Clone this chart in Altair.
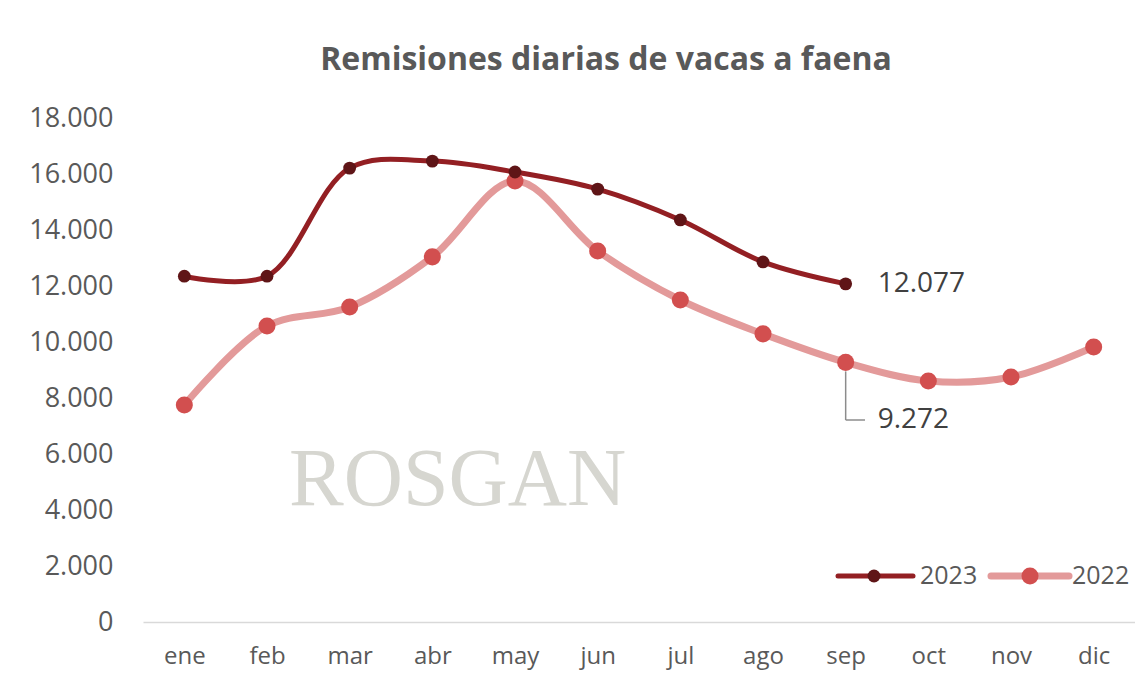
import altair as alt
import pandas as pd

months = ["ene", "feb", "mar", "abr", "may", "jun", "jul", "ago", "sep", "oct", "nov", "dic"]
vals_2023 = [12350, 12350, 16210, 16460, 16070, 15460, 14360, 12860, 12077]
vals_2022 = [7750, 10570, 11250, 13040, 15750, 13250, 11500, 10290, 9272, 8610, 8750, 9820]
y_ticks = [0, 2000, 4000, 6000, 8000, 10000, 12000, 14000, 16000, 18000]
title_text = "Remisiones diarias de vacas a faena"
series_names = ["2023", "2022"]

FONT = "Open Sans"
GRAY = "#595959"
C23_LINE, C23_PT = "#931f23", "#5f1517"
C22_LINE, C22_PT = "#e39a9a", "#d24f4f"

d23 = pd.DataFrame({"mes": months[:len(vals_2023)], "valor": vals_2023})
d22 = pd.DataFrame({"mes": months, "valor": vals_2022})

W, H = 992, 504

x_enc = alt.X("mes:N", sort=months, scale=alt.Scale(domain=months, type="point", padding=0.5),
              axis=alt.Axis(title=None, labelAngle=0, labelFont=FONT, labelFontSize=24,
                            labelColor=GRAY, ticks=False, domain=True, domainColor="#d9d9d9",
                            domainWidth=1.5, labelPadding=22, grid=False))
y_enc = alt.Y("valor:Q", scale=alt.Scale(domain=[0, 18000], nice=False),
              axis=alt.Axis(title=None, values=y_ticks, labelFont=FONT, labelFontSize=27,
                            labelColor=GRAY, ticks=False, domain=False, grid=False,
                            labelPadding=30, labelExpr="replace(format(datum.value, ','), ',', '.')"))

base23 = alt.Chart(d23).encode(x=x_enc, y=y_enc)
base22 = alt.Chart(d22).encode(x=x_enc, y=y_enc)

line22 = base22.mark_line(color=C22_LINE, strokeWidth=7, interpolate="catmull-rom")
pts22 = base22.mark_point(color=C22_PT, filled=True, opacity=1, size=290)
line23 = base23.mark_line(color=C23_LINE, strokeWidth=5, interpolate="catmull-rom")
pts23 = base23.mark_point(color=C23_PT, filled=True, opacity=1, size=165)

last23 = alt.Chart(d23.tail(1)).transform_calculate(
    lbl="replace(format(datum.valor, ','), ',', '.')"
).mark_text(align="left", baseline="middle", dx=32, font=FONT, fontSize=28,
            color="#404040").encode(x=x_enc, y=y_enc, text="lbl:N")

sep22 = d22.iloc[[8]]
last22 = alt.Chart(sep22).transform_calculate(
    lbl="replace(format(datum.valor, ','), ',', '.')"
).mark_text(align="left", baseline="middle", dx=32, dy=58, font=FONT, fontSize=28,
            color="#404040").encode(x=x_enc, y=y_enc, text="lbl:N")
lead_v = alt.Chart(sep22).mark_rule(color="#8c8c8c", strokeWidth=1.5, yOffset=9).encode(
    x=x_enc, y=y_enc, y2=alt.value(302))
lead_h = alt.Chart(sep22).mark_rule(color="#8c8c8c", strokeWidth=1.5).encode(
    x=x_enc, x2=alt.value(722), y=alt.value(302))

title = alt.Chart(pd.DataFrame({"t": [title_text]})).mark_text(
    font=FONT, fontSize=32, fontWeight="bold", color=GRAY, baseline="middle", align="center"
).encode(x=alt.value(463), y=alt.value(-58), text="t:N")

wm = alt.Chart(pd.DataFrame({"t": ["ROSGAN"]})).mark_text(
    font="Liberation Serif", fontSize=82, color="#d6d6d0", baseline="middle", align="left"
).encode(x=alt.value(146), y=alt.value(362), text="t:N")

# custom legend
leg_layers = []
leg_specs = [("2023", C23_LINE, C23_PT, 5, 165, 695, 770, 731, 777),
             ("2022", C22_LINE, C22_PT, 7, 290, 848, 926, 887, 929)]
for name, lc, pc, sw, ps, x1, x2, xp, xt in leg_specs:
    df = pd.DataFrame({"t": [name]})
    leg_layers.append(alt.Chart(df).mark_rule(color=lc, strokeWidth=sw, strokeCap="round").encode(
        x=alt.value(x1), x2=alt.value(x2), y=alt.value(458)))
    leg_layers.append(alt.Chart(df).mark_point(color=pc, filled=True, opacity=1, size=ps).encode(
        x=alt.value(xp), y=alt.value(458)))
    leg_layers.append(alt.Chart(df).mark_text(font=FONT, fontSize=25, color=GRAY, align="left",
                                              baseline="middle").encode(
        x=alt.value(xt), y=alt.value(458), text="t:N"))

chart = alt.layer(wm, line22, line23, pts22, pts23, last23, lead_v, lead_h, last22, title,
                  *leg_layers).properties(
    width=W, height=H,
    background="white",
    autosize=alt.AutoSizeParams(type="none"),
    padding={"left": 135, "top": 110, "right": 0, "bottom": 60},
).configure_view(strokeWidth=0, stroke=None)

chart.save("out.html", embed_options={"renderer": "svg", "actions": False})
